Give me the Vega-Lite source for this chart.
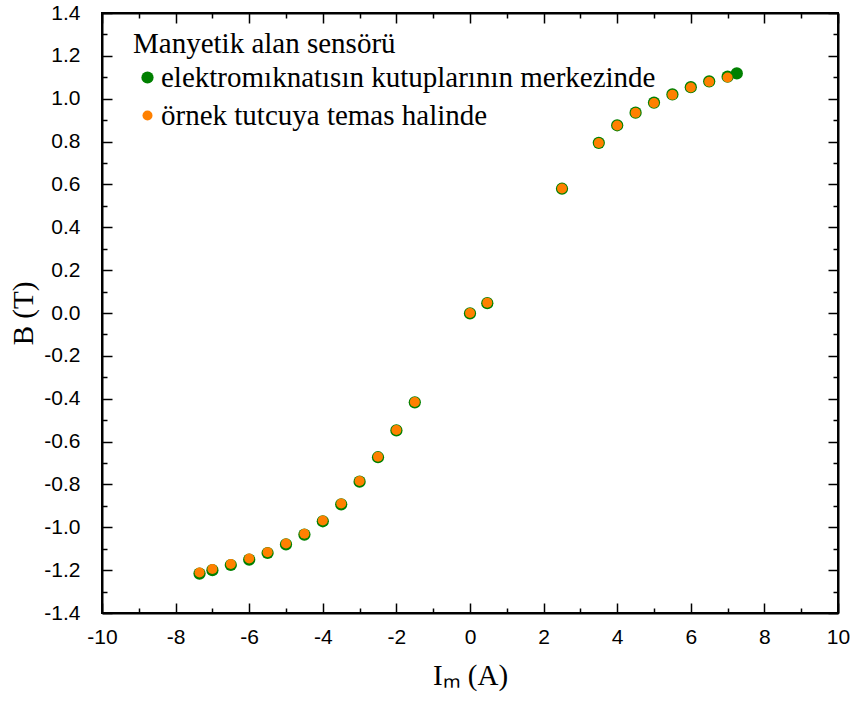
{
  "$schema": "https://vega.github.io/schema/vega-lite/v6.json",
  "width": 736,
  "height": 600,
  "autosize": {"type": "none"},
  "padding": {"left": 102, "top": 13, "right": 18, "bottom": 88},
  "background": "white",
  "config": {
    "font": "Times New Roman",
    "view": {"stroke": "black", "strokeWidth": 2},
    "style": {
      "guide-label": {"font": "Times New Roman"},
      "guide-title": {"font": "Times New Roman"}
    },
    "axis": {
      "grid": false,
      "domainColor": "black",
      "domainWidth": 2,
      "tickColor": "black",
      "tickWidth": 1.5,
      "labelColor": "black",
      "labelFont": "Liberation Sans",
      "labelFontSize": 21,
      "labelOverlap": false,
      "labelFlush": false,
      "titleColor": "black",
      "titleFont": "Liberation Serif",
      "titleFontWeight": "normal"
    },
    "legend": {
      "labelFont": "Times New Roman",
      "titleFont": "Times New Roman"
    }
  },
  "datasets": {
    "field": [
      {"I": -7.35, "B": -1.216, "sensor": "elektromıknatısın kutuplarının merkezinde"},
      {"I": -7.0, "B": -1.2, "sensor": "elektromıknatısın kutuplarının merkezinde"},
      {"I": -6.5, "B": -1.176, "sensor": "elektromıknatısın kutuplarının merkezinde"},
      {"I": -6.0, "B": -1.151, "sensor": "elektromıknatısın kutuplarının merkezinde"},
      {"I": -5.5, "B": -1.12, "sensor": "elektromıknatısın kutuplarının merkezinde"},
      {"I": -5.0, "B": -1.08, "sensor": "elektromıknatısın kutuplarının merkezinde"},
      {"I": -4.5, "B": -1.034, "sensor": "elektromıknatısın kutuplarının merkezinde"},
      {"I": -4.0, "B": -0.972, "sensor": "elektromıknatısın kutuplarının merkezinde"},
      {"I": -3.5, "B": -0.893, "sensor": "elektromıknatısın kutuplarının merkezinde"},
      {"I": -3.0, "B": -0.787, "sensor": "elektromıknatısın kutuplarının merkezinde"},
      {"I": -2.5, "B": -0.673, "sensor": "elektromıknatısın kutuplarının merkezinde"},
      {"I": -2.0, "B": -0.548, "sensor": "elektromıknatısın kutuplarının merkezinde"},
      {"I": -1.5, "B": -0.417, "sensor": "elektromıknatısın kutuplarının merkezinde"},
      {"I": 0.0, "B": -0.002, "sensor": "elektromıknatısın kutuplarının merkezinde"},
      {"I": 0.47, "B": 0.046, "sensor": "elektromıknatısın kutuplarının merkezinde"},
      {"I": 2.5, "B": 0.58, "sensor": "elektromıknatısın kutuplarının merkezinde"},
      {"I": 3.5, "B": 0.794, "sensor": "elektromıknatısın kutuplarının merkezinde"},
      {"I": 4.0, "B": 0.876, "sensor": "elektromıknatısın kutuplarının merkezinde"},
      {"I": 4.5, "B": 0.935, "sensor": "elektromıknatısın kutuplarının merkezinde"},
      {"I": 5.0, "B": 0.982, "sensor": "elektromıknatısın kutuplarının merkezinde"},
      {"I": 5.5, "B": 1.02, "sensor": "elektromıknatısın kutuplarının merkezinde"},
      {"I": 6.0, "B": 1.054, "sensor": "elektromıknatısın kutuplarının merkezinde"},
      {"I": 6.5, "B": 1.081, "sensor": "elektromıknatısın kutuplarının merkezinde"},
      {"I": 7.0, "B": 1.103, "sensor": "elektromıknatısın kutuplarının merkezinde"},
      {"I": 7.25, "B": 1.118, "sensor": "elektromıknatısın kutuplarının merkezinde"},
      {"I": -7.35, "B": -1.211, "sensor": "örnek tutcuya temas halinde"},
      {"I": -7.0, "B": -1.195, "sensor": "örnek tutcuya temas halinde"},
      {"I": -6.5, "B": -1.171, "sensor": "örnek tutcuya temas halinde"},
      {"I": -6.0, "B": -1.146, "sensor": "örnek tutcuya temas halinde"},
      {"I": -5.5, "B": -1.116, "sensor": "örnek tutcuya temas halinde"},
      {"I": -5.0, "B": -1.076, "sensor": "örnek tutcuya temas halinde"},
      {"I": -4.5, "B": -1.03, "sensor": "örnek tutcuya temas halinde"},
      {"I": -4.0, "B": -0.968, "sensor": "örnek tutcuya temas halinde"},
      {"I": -3.5, "B": -0.889, "sensor": "örnek tutcuya temas halinde"},
      {"I": -3.0, "B": -0.784, "sensor": "örnek tutcuya temas halinde"},
      {"I": -2.5, "B": -0.671, "sensor": "örnek tutcuya temas halinde"},
      {"I": -2.0, "B": -0.546, "sensor": "örnek tutcuya temas halinde"},
      {"I": -1.5, "B": -0.415, "sensor": "örnek tutcuya temas halinde"},
      {"I": 0.0, "B": 0.0, "sensor": "örnek tutcuya temas halinde"},
      {"I": 0.47, "B": 0.048, "sensor": "örnek tutcuya temas halinde"},
      {"I": 2.5, "B": 0.581, "sensor": "örnek tutcuya temas halinde"},
      {"I": 3.5, "B": 0.793, "sensor": "örnek tutcuya temas halinde"},
      {"I": 4.0, "B": 0.875, "sensor": "örnek tutcuya temas halinde"},
      {"I": 4.5, "B": 0.934, "sensor": "örnek tutcuya temas halinde"},
      {"I": 5.0, "B": 0.98, "sensor": "örnek tutcuya temas halinde"},
      {"I": 5.5, "B": 1.018, "sensor": "örnek tutcuya temas halinde"},
      {"I": 6.0, "B": 1.052, "sensor": "örnek tutcuya temas halinde"},
      {"I": 6.5, "B": 1.079, "sensor": "örnek tutcuya temas halinde"},
      {"I": 7.0, "B": 1.099, "sensor": "örnek tutcuya temas halinde"}
    ]
  },
  "data": {"name": "field"},
  "layer": [
    {
      "mark": {"type": "point", "shape": "circle", "filled": true, "opacity": 1},
      "encoding": {
        "x": {
          "field": "I",
          "type": "quantitative",
          "scale": {"domain": [-10, 10], "nice": false, "zero": false},
          "axis": {
            "orient": "bottom",
            "values": [-10, -9, -8, -7, -6, -5, -4, -3, -2, -1, 0, 1, 2, 3, 4, 5, 6, 7, 8, 9, 10],
            "labelExpr": "datum.value % 2 === 0 ? replace(format(datum.value, 'd'), '−', '-') : ''",
            "tickSize": {"condition": {"test": "datum.value % 2 === 0", "value": -10}, "value": -5},
            "labelPadding": 23,
            "title": "Iₘ (A)",
            "titleFontSize": 29,
            "titlePadding": 9
          }
        },
        "y": {
          "field": "B",
          "type": "quantitative",
          "scale": {"domain": [-1.4, 1.4], "nice": false, "zero": false},
          "axis": {
            "orient": "left",
            "values": [-1.4, -1.3, -1.2, -1.1, -1.0, -0.9, -0.8, -0.7, -0.6, -0.5, -0.4, -0.3, -0.2, -0.1, 0, 0.1, 0.2, 0.3, 0.4, 0.5, 0.6, 0.7, 0.8, 0.9, 1.0, 1.1, 1.2, 1.3, 1.4],
            "labelExpr": "abs(round(datum.value * 10)) % 2 === 0 ? replace(format(datum.value, '.1f'), '−', '-') : ''",
            "tickSize": {"condition": {"test": "abs(round(datum.value * 10)) % 2 === 0", "value": -10}, "value": -5},
            "labelPadding": 32,
            "title": "B (T)",
            "titleFontSize": 29,
            "titlePadding": 5
          }
        },
        "color": {
          "field": "sensor",
          "type": "nominal",
          "scale": {
            "domain": ["elektromıknatısın kutuplarının merkezinde", "örnek tutcuya temas halinde"],
            "range": ["#008000", "#ff8000"]
          },
          "legend": {
            "orient": "none",
            "legendX": 31,
            "legendY": 17,
            "title": "Manyetik alan sensörü",
            "titleFont": "Times New Roman",
            "titleFontSize": 29,
            "titleFontWeight": "normal",
            "titleColor": "black",
            "titleLimit": 0,
            "labelFont": "serif",
            "labelFontSize": 29,
            "labelColor": "black",
            "labelLimit": 0,
            "titlePadding": 4,
            "labelOffset": -1,
            "rowPadding": 8,
            "symbolSize": 110,
            "symbolType": "circle"
          }
        },
        "size": {
          "field": "sensor",
          "type": "nominal",
          "scale": {
            "domain": ["elektromıknatısın kutuplarının merkezinde", "örnek tutcuya temas halinde"],
            "range": [150, 100]
          },
          "legend": null
        }
      }
    },
    {
      "mark": {"type": "point", "shape": "circle", "filled": true, "opacity": 0},
      "encoding": {
        "x": {
          "field": "I",
          "type": "quantitative",
          "axis": {
            "orient": "top",
            "values": [-10, -9, -8, -7, -6, -5, -4, -3, -2, -1, 0, 1, 2, 3, 4, 5, 6, 7, 8, 9, 10],
            "labels": false,
            "tickSize": {"condition": {"test": "datum.value % 2 === 0", "value": -10}, "value": -5},
            "title": null
          }
        },
        "y": {
          "field": "B",
          "type": "quantitative",
          "axis": {
            "orient": "right",
            "values": [-1.4, -1.3, -1.2, -1.1, -1.0, -0.9, -0.8, -0.7, -0.6, -0.5, -0.4, -0.3, -0.2, -0.1, 0, 0.1, 0.2, 0.3, 0.4, 0.5, 0.6, 0.7, 0.8, 0.9, 1.0, 1.1, 1.2, 1.3, 1.4],
            "labels": false,
            "tickSize": {"condition": {"test": "abs(round(datum.value * 10)) % 2 === 0", "value": -10}, "value": -5},
            "title": null
          }
        }
      }
    }
  ],
  "resolve": {"axis": {"x": "independent", "y": "independent"}}
}
